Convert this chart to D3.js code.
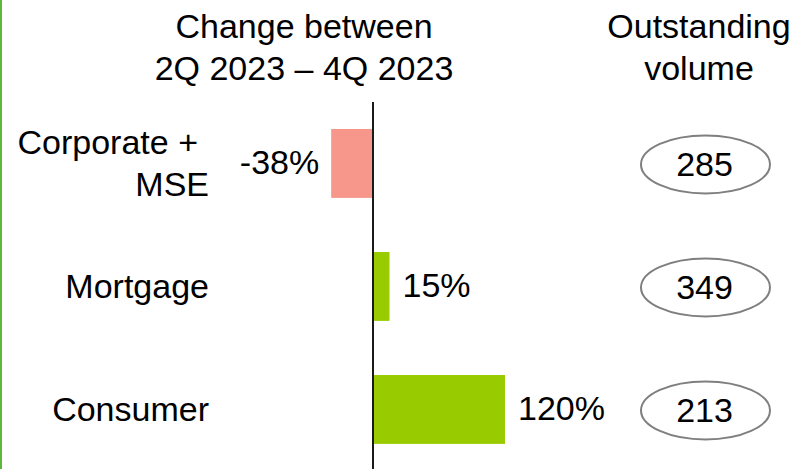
<!DOCTYPE html>
<html>
<head>
<meta charset="utf-8">
<script src="https://cdn.jsdelivr.net/npm/d3@7"></script>
<style>
  html, body { margin: 0; padding: 0; background: #fff; }
  text { font-family: "Liberation Sans", Arial, sans-serif; fill: #000; }
</style>
</head>
<body>
<svg id="chart" width="796" height="469"></svg>
<script>
// chart data
const categories = ['Corporate + MSE', 'Mortgage', 'Consumer'];
const categoryLines = [['Corporate +', 'MSE'], ['Mortgage'], ['Consumer']];
const changePct = [-38, 15, 120];
const outstanding = [285, 349, 213];
const changeTitle = ['Change between', '2Q 2023 \u2013 4Q 2023'];
const volumeTitle = ['Outstanding', 'volume'];

let width = 796;
let height = 469;
let fontSize = 34;
let lineGap = 42;

let svg = d3.select('#chart');

// green rule on the left edge
svg.append('rect')
    .attr('x', 0).attr('y', 0)
    .attr('width', 2).attr('height', height)
    .attr('fill', '#5cb83c');

// scales
let x = d3.scaleLinear().domain([0, 120]).range([373, 505]);
let y = d3.scaleBand().domain(categories).range([104.4, 468.5]).paddingInner(0.44).paddingOuter(0.2);

// headers
let headerText = function(lines, cx) {
  let t = svg.append('text')
      .attr('text-anchor', 'middle')
      .style('font-size', fontSize + 'px');
  lines.forEach((line, i) => {
    t.append('tspan').attr('x', cx).attr('y', 38 + i * lineGap).text(line);
  });
};
headerText(changeTitle, 304);
headerText(volumeTitle, 699);

// bars
svg.selectAll('rect.bar')
    .data(categories)
    .enter().append('rect')
    .attr('class', 'bar')
    .attr('x', (d, i) => Math.min(x(0), x(changePct[i])))
    .attr('y', (d) => y(d))
    .attr('width', (d, i) => Math.abs(x(changePct[i]) - x(0)))
    .attr('height', y.bandwidth())
    .attr('fill', (d, i) => changePct[i] < 0 ? '#f7968a' : '#99cc00');

// zero axis
svg.append('line')
    .attr('x1', x(0)).attr('x2', x(0))
    .attr('y1', 102).attr('y2', height)
    .attr('stroke', '#1a1a1a')
    .attr('stroke-width', 2);

// value labels next to the bars
svg.selectAll('text.value')
    .data(categories)
    .enter().append('text')
    .attr('class', 'value')
    .attr('x', (d, i) => changePct[i] < 0 ? x(changePct[i]) - 12 : x(changePct[i]) + 13)
    .attr('y', (d) => y(d) + y.bandwidth() / 2 + 11)
    .attr('text-anchor', (d, i) => changePct[i] < 0 ? 'end' : 'start')
    .style('font-size', fontSize + 'px')
    .text((d, i) => changePct[i] + '%');

// category labels, right aligned
categories.forEach((cat, i) => {
  let lines = categoryLines[i];
  let mid = y(cat) + y.bandwidth() / 2;
  let t = svg.append('text')
      .attr('text-anchor', 'end')
      .style('font-size', fontSize + 'px');
  lines.forEach((line, j) => {
    // "+" line carries a trailing space in the original, so it sits a bit further left
    let xEnd = line.endsWith('+') ? 198 : 209;
    t.append('tspan')
        .attr('x', xEnd)
        .attr('y', mid + 12 + (j - (lines.length - 1) / 2) * lineGap)
        .text(line);
  });
});

// outstanding volume ellipses
let vol = svg.selectAll('g.vol')
    .data(categories)
    .enter().append('g')
    .attr('class', 'vol')
    .attr('transform', (d) => `translate(705.5,${y(d) + y.bandwidth() / 2 + 1})`);

vol.append('ellipse')
    .attr('rx', 64.5).attr('ry', 29)
    .attr('fill', 'none')
    .attr('stroke', '#7f7f7f')
    .attr('stroke-width', 2);

vol.append('text')
    .attr('text-anchor', 'middle')
    .attr('x', -1)
    .attr('y', 12)
    .style('font-size', fontSize + 'px')
    .text((d, i) => outstanding[i]);
</script>
</body>
</html>
